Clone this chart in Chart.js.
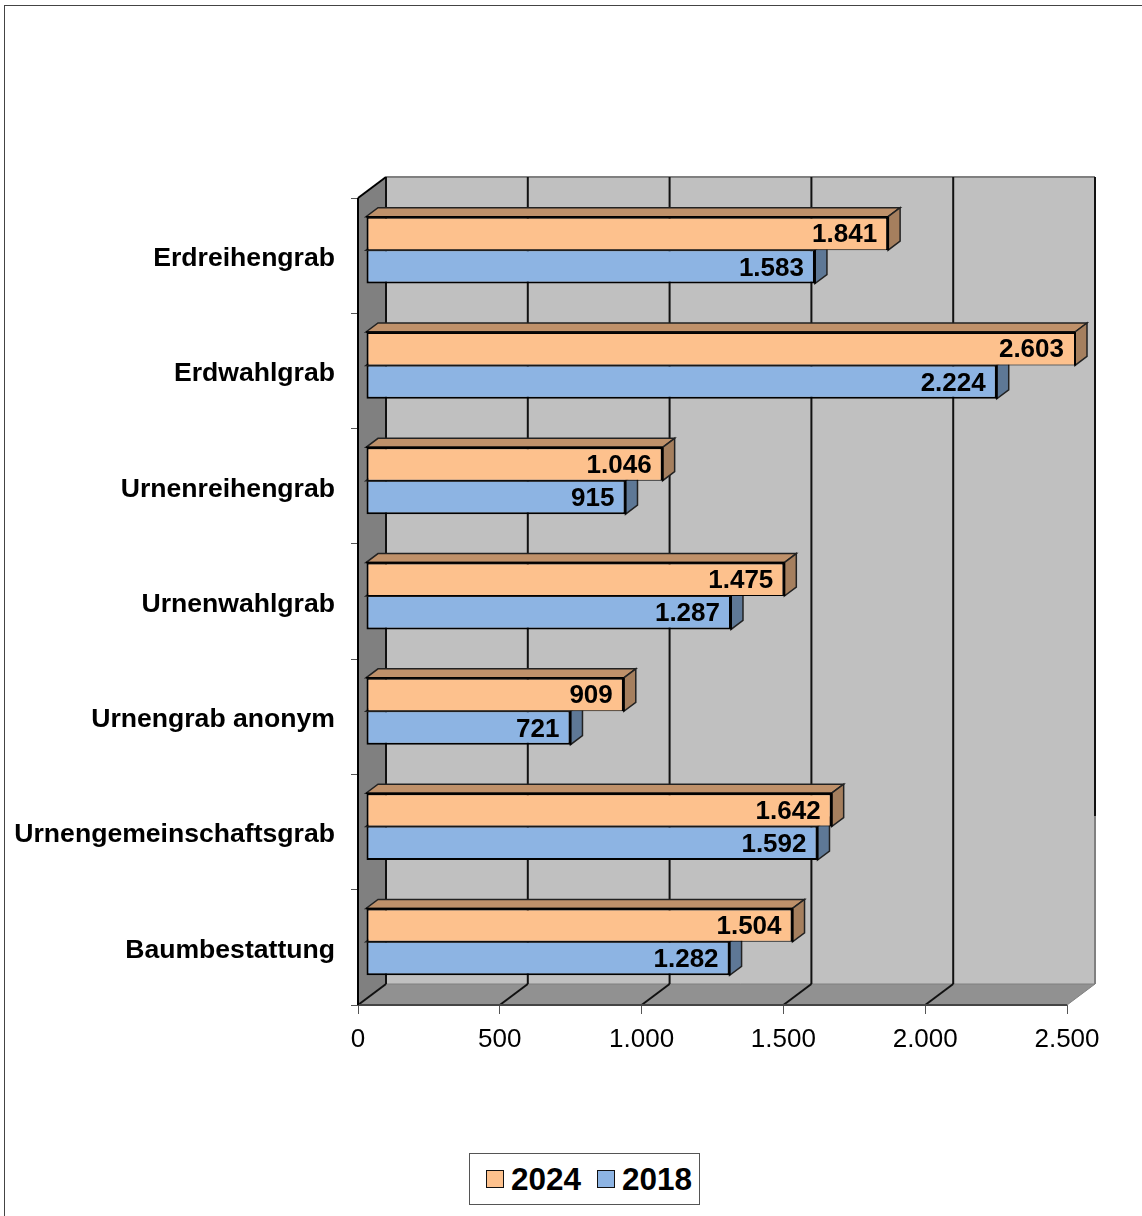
<!DOCTYPE html>
<html>
<head>
<meta charset="utf-8">
<script src="https://cdn.jsdelivr.net/npm/chart.js@4"></script>
<style>
  html, body { margin: 0; background: #fff; }
  body { width: 1142px; height: 1216px; position: relative; overflow: hidden; font-family: "Liberation Sans", Arial, sans-serif; }
  #frame { position: absolute; left: 4px; top: 5px; right: -5px; bottom: -5px; border-top: 1px solid #444; border-left: 1px solid #444; }
  canvas { position: absolute; left: 0; top: 0; }
  #legend { position: absolute; left: 469px; top: 1153px; width: 229px; height: 50px; border: 1px solid #555; background: #fff;
            font-weight: bold; font-size: 31.5px; line-height: 50px; color: #000; }
  #legend i { position: absolute; top: 16px; width: 16px; height: 16px; border: 1.5px solid #111; }
  #legend span { position: absolute; top: 0; }
</style>
</head>
<body>
<div id="frame"></div>
<canvas id="chart" width="1142" height="1216"></canvas>
<div id="legend"></div>
<script>
const categories = ['Erdreihengrab', 'Erdwahlgrab', 'Urnenreihengrab', 'Urnenwahlgrab', 'Urnengrab anonym', 'Urnengemeinschaftsgrab', 'Baumbestattung'];
const values2024 = [1841, 2603, 1046, 1475, 909, 1642, 1504];
const values2018 = [1583, 2224, 915, 1287, 721, 1592, 1282];
const xTicks = [0, 500, 1000, 1500, 2000, 2500];

const colors2024 = { front: '#FDC18D', top: '#BF916A', side: '#A57F5E' };
const colors2018 = { front: '#8DB4E3', top: '#6A87AA', side: '#5E7896' };

// 3d look: depth of the box, depth of a bar, shift of the bars into the box
const DEPTH_X = 28, DEPTH_Y = 21;
const BAR_DEPTH_X = 12, BAR_DEPTH_Y = 9;
const BAR_SHIFT_X = 8, BAR_SHIFT_Y = -5.5;

function fmt(v) {
  return String(v).replace(/\B(?=(\d{3})+$)/g, '.');
}

function poly(ctx, pts, fill, stroke, width) {
  ctx.beginPath();
  pts.forEach((p, i) => i ? ctx.lineTo(p[0], p[1]) : ctx.moveTo(p[0], p[1]));
  ctx.closePath();
  if (fill) { ctx.fillStyle = fill; ctx.fill(); }
  if (stroke) { ctx.strokeStyle = stroke; ctx.lineWidth = width; ctx.stroke(); }
}

function line(ctx, x0, y0, x1, y1, color, width) {
  ctx.beginPath();
  ctx.moveTo(x0, y0);
  ctx.lineTo(x1, y1);
  ctx.strokeStyle = color;
  ctx.lineWidth = width;
  ctx.stroke();
}

const box3d = {
  id: 'box3d',
  beforeDatasetsDraw(chart) {
    const ctx = chart.ctx, a = chart.chartArea, xs = chart.scales.x;
    ctx.save();
    // back wall, left wall, floor
    poly(ctx, [[a.left + DEPTH_X, a.top - DEPTH_Y], [a.right + DEPTH_X, a.top - DEPTH_Y], [a.right + DEPTH_X, a.bottom - DEPTH_Y], [a.left + DEPTH_X, a.bottom - DEPTH_Y]], '#C0C0C0');
    poly(ctx, [[a.left, a.top], [a.left + DEPTH_X, a.top - DEPTH_Y], [a.left + DEPTH_X, a.bottom - DEPTH_Y], [a.left, a.bottom]], '#808080');
    poly(ctx, [[a.left, a.bottom], [a.right, a.bottom], [a.right + DEPTH_X, a.bottom - DEPTH_Y], [a.left + DEPTH_X, a.bottom - DEPTH_Y]], '#919191');
    line(ctx, a.left + DEPTH_X, a.top - DEPTH_Y, a.right + DEPTH_X, a.top - DEPTH_Y, '#808080', 2);
    line(ctx, a.left + DEPTH_X, a.bottom - DEPTH_Y, a.right + DEPTH_X, a.bottom - DEPTH_Y, '#808080', 1);
    line(ctx, a.right, a.bottom, a.right + DEPTH_X, a.bottom - DEPTH_Y, '#808080', 1);
    // grid lines on wall and floor
    xTicks.forEach((t, i) => {
      const x = xs.getPixelForValue(t);
      const last = i === xTicks.length - 1;
      if (last) {
        line(ctx, x + DEPTH_X, a.top - DEPTH_Y, x + DEPTH_X, a.bottom - DEPTH_Y - 168, '#111', 2);
        line(ctx, x + DEPTH_X, a.bottom - DEPTH_Y - 168, x + DEPTH_X, a.bottom - DEPTH_Y, '#808080', 2);
      } else {
        line(ctx, x + DEPTH_X, a.top - DEPTH_Y, x + DEPTH_X, a.bottom - DEPTH_Y, '#111', 2);
        line(ctx, x, a.bottom, x + DEPTH_X, a.bottom - DEPTH_Y, '#111', 2);
      }
    });
    // front edges
    line(ctx, a.left, a.bottom, a.right, a.bottom, '#444', 2);
    line(ctx, a.left, a.top, a.left, a.bottom, '#000', 2);
    line(ctx, a.left, a.top, a.left + DEPTH_X, a.top - DEPTH_Y, '#000', 2);
    ctx.restore();
  },
  beforeDatasetDraw(chart) {
    chart.ctx.save();
    chart.ctx.translate(BAR_SHIFT_X, BAR_SHIFT_Y);
  },
  afterDatasetDraw(chart, args) {
    const ctx = chart.ctx, a = chart.chartArea;
    const c = args.index === 0 ? colors2024 : colors2018;
    args.meta.data.forEach(bar => {
      const xEnd = Math.min(bar.x, a.right);
      const y0 = bar.y - bar.height / 2, y1 = bar.y + bar.height / 2;
      poly(ctx, [[a.left, y0], [xEnd, y0], [xEnd + BAR_DEPTH_X, y0 - BAR_DEPTH_Y], [a.left + BAR_DEPTH_X, y0 - BAR_DEPTH_Y]], c.top, '#222', 1.5);
      poly(ctx, [[xEnd, y0], [xEnd + BAR_DEPTH_X, y0 - BAR_DEPTH_Y], [xEnd + BAR_DEPTH_X, y1 - BAR_DEPTH_Y], [xEnd, y1]], c.side, '#222', 1.5);
      if (args.index === 0) line(ctx, a.left, y0, xEnd, y0, '#000', 1.5);
      line(ctx, xEnd, y0, xEnd, y1, '#000', 2);
    });
    ctx.restore();
  },
  afterDatasetsDraw(chart) {
    const ctx = chart.ctx, a = chart.chartArea;
    ctx.save();
    ctx.font = 'bold 26px "Liberation Sans"';
    ctx.fillStyle = '#000';
    ctx.textAlign = 'right';
    ctx.textBaseline = 'middle';
    chart.data.datasets.forEach((ds, d) => {
      chart.getDatasetMeta(d).data.forEach((bar, i) => {
        const xEnd = Math.min(bar.x, a.right) + BAR_SHIFT_X;
        ctx.fillText(fmt(ds.data[i]), xEnd - 11, bar.y + BAR_SHIFT_Y + 1.5);
      });
    });
    ctx.restore();
  }
};

// category labels sit a little under the middle of their band
function lowerLabels(scale) {
  if (scale.lowered) return;
  scale.lowered = true;
  const draw = scale.drawLabels;
  scale.drawLabels = function (area) {
    this.ctx.save();
    this.ctx.translate(0, 3);
    draw.call(this, area);
    this.ctx.restore();
  };
}

new Chart(document.getElementById('chart'), {
  type: 'bar',
  data: {
    labels: categories,
    datasets: [
      { label: '2024', data: values2024, backgroundColor: colors2024.front, borderColor: '#000', borderWidth: { top: 2, left: 2, right: 2, bottom: 1 }, borderSkipped: false },
      { label: '2018', data: values2018, backgroundColor: colors2018.front, borderColor: '#000', borderWidth: { top: 1, left: 2, right: 2, bottom: 2 }, borderSkipped: false }
    ]
  },
  plugins: [box3d],
  options: {
    indexAxis: 'y',
    responsive: false,
    animation: false,
    devicePixelRatio: 1,
    categoryPercentage: 0.58,
    barPercentage: 1,
    layout: { padding: { left: 0, top: 198, right: 75, bottom: 151 } },
    plugins: { legend: { display: false }, tooltip: { enabled: false } },
    scales: {
      x: {
        min: 0,
        max: 2500,
        afterFit(s) { s.height = 60; },
        afterBuildTicks(s) { s.ticks = xTicks.map(v => ({ value: v })); },
        border: { display: false },
        grid: { drawOnChartArea: false, tickLength: 9, tickColor: '#555', tickWidth: 1 },
        ticks: { color: '#000', padding: 10, maxRotation: 0, font: { family: 'Liberation Sans', size: 26 }, callback: v => fmt(v) }
      },
      y: {
        afterFit(s) { s.width = 358; },
        afterUpdate: lowerLabels,
        border: { display: false },
        grid: { offset: true, drawOnChartArea: false, tickLength: 7, tickColor: '#555', tickWidth: 1 },
        ticks: { color: '#000', padding: 16, autoSkip: false, font: { family: 'Liberation Sans', size: 26.6, weight: 'bold' } }
      }
    }
  }
});

// legend is html, chart.js puts the text too far from the box
const legendEl = document.getElementById('legend');
[['2024', colors2024.front, 16, 41], ['2018', colors2018.front, 127, 152]].forEach(item => {
  const box = document.createElement('i');
  box.style.left = item[2] + 'px';
  box.style.background = item[1];
  const txt = document.createElement('span');
  txt.style.left = item[3] + 'px';
  txt.textContent = item[0];
  legendEl.append(box, txt);
});
</script>
</body>
</html>
